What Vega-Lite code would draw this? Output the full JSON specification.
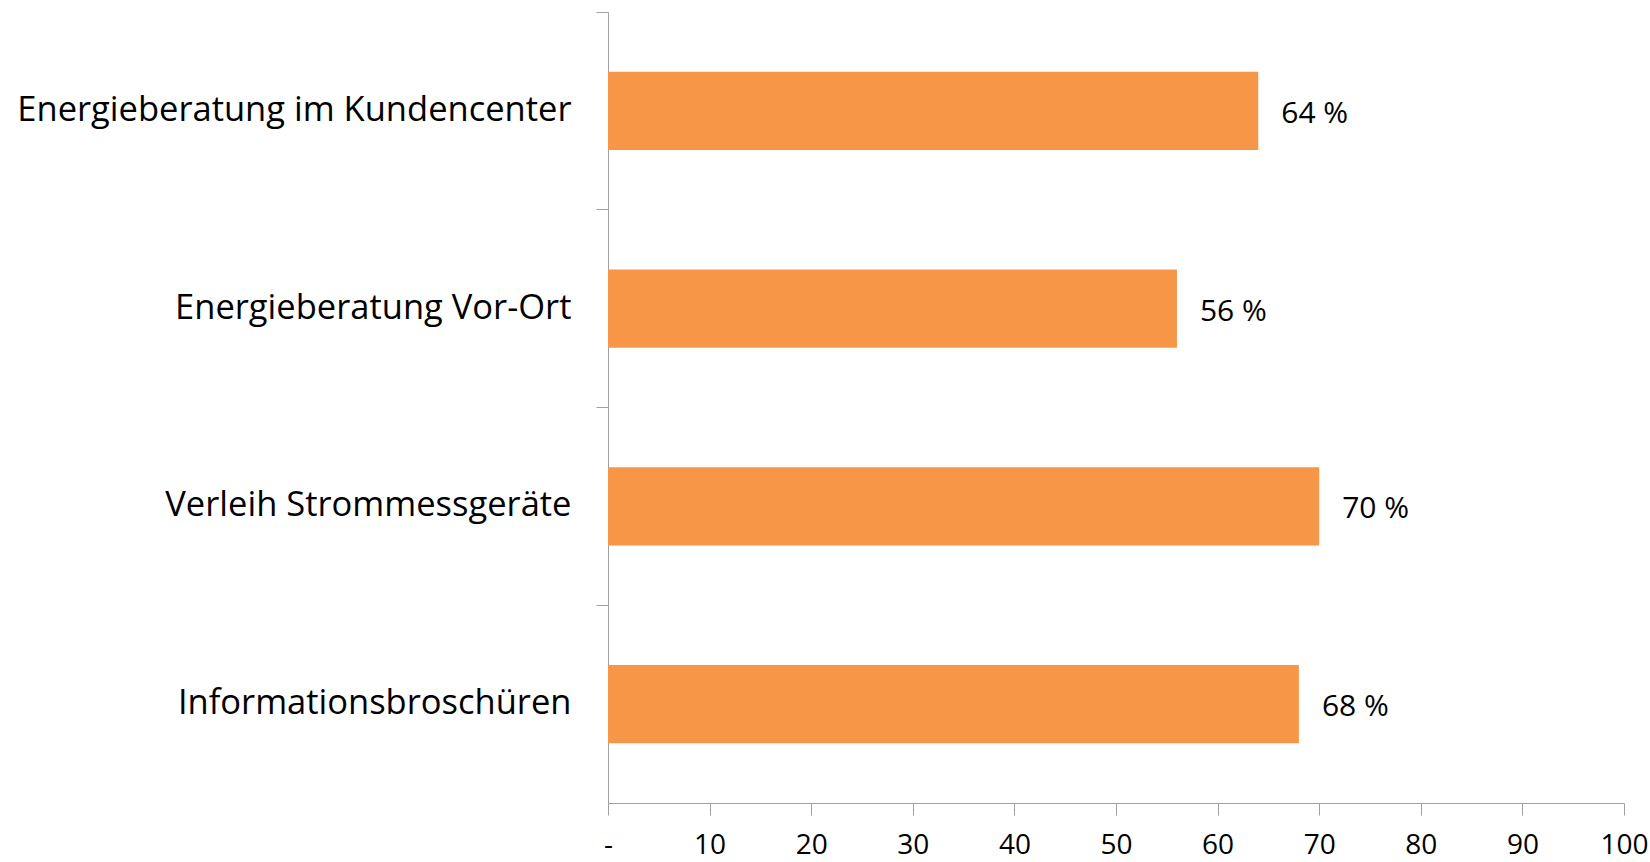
{
  "$schema": "https://vega.github.io/schema/vega-lite/v6.json",
  "autosize": "none",
  "padding": {"left": 608, "top": 12, "right": 26, "bottom": 59},
  "width": 1016,
  "height": 791,
  "background": "white",
  "config": {
    "view": {"stroke": null},
    "font": "Open Sans"
  },
  "data": {
    "values": [
      {"Kategorie": "Energieberatung im Kundencenter", "Wert": 64, "Label": "64 %"},
      {"Kategorie": "Energieberatung Vor-Ort", "Wert": 56, "Label": "56 %"},
      {"Kategorie": "Verleih Strommessgeräte", "Wert": 70, "Label": "70 %"},
      {"Kategorie": "Informationsbroschüren", "Wert": 68, "Label": "68 %"}
    ]
  },
  "encoding": {
    "y": {
      "field": "Kategorie",
      "type": "nominal",
      "sort": null,
      "scale": {"paddingInner": 0, "paddingOuter": 0},
      "axis": {
        "title": null,
        "bandPosition": 0,
        "domainColor": "#a0a0a0",
        "tickColor": "#a0a0a0",
        "tickSize": 12,
        "labelFontSize": 34.5,
        "labelColor": "#000000",
        "labelPadding": 25,
        "labelLimit": 700,
        "labelFont": "Open Sans"
      }
    },
    "x": {
      "field": "Wert",
      "type": "quantitative",
      "scale": {"domain": [0, 100], "nice": false},
      "axis": {
        "title": null,
        "values": [0, 10, 20, 30, 40, 50, 60, 70, 80, 90, 100],
        "labelExpr": "datum.value == 0 ? '-' : datum.label",
        "grid": false,
        "domainColor": "#a0a0a0",
        "tickColor": "#a0a0a0",
        "tickSize": 12,
        "labelFontSize": 28,
        "labelColor": "#000000",
        "labelPadding": 16,
        "labelDx": -6,
        "labelFont": "Open Sans",
        "labelFlush": false
      }
    }
  },
  "layer": [
    {
      "mark": {"type": "bar", "color": "#F79646", "height": {"band": 0.396}}
    },
    {
      "mark": {"type": "text", "align": "left", "baseline": "middle", "dx": 23, "dy": 3, "fontSize": 30, "color": "#000000", "font": "Open Sans"},
      "encoding": {"text": {"field": "Label"}}
    }
  ]
}
